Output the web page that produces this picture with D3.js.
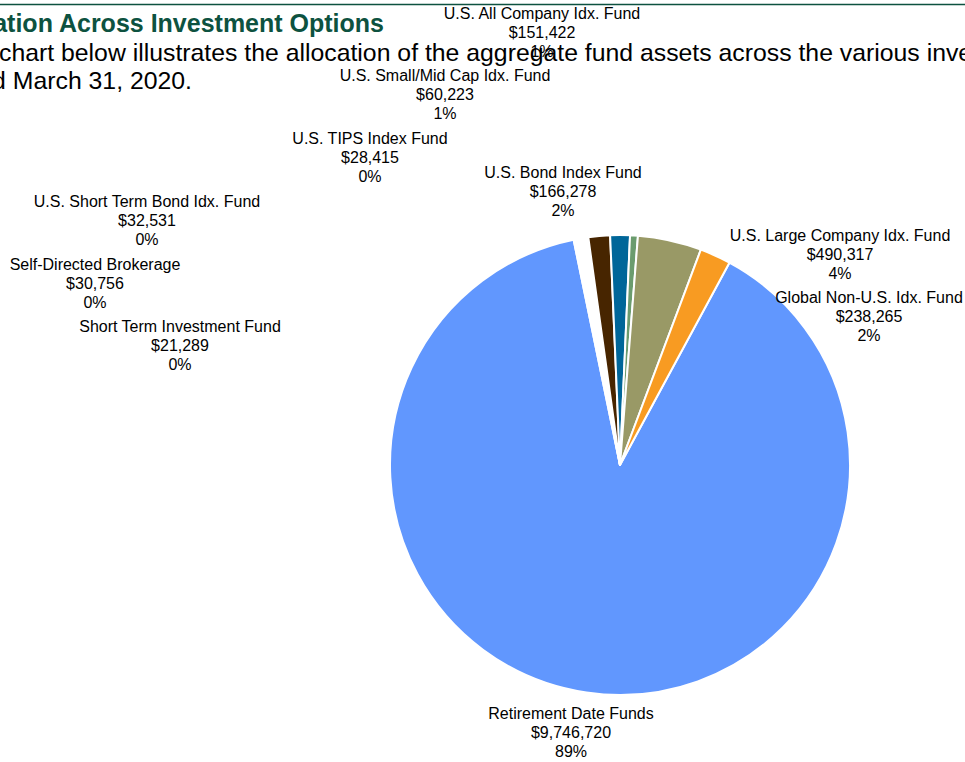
<!DOCTYPE html>
<html>
<head>
<meta charset="utf-8">
<script src="https://cdn.jsdelivr.net/npm/d3@7"></script>
<style>
  html, body { margin: 0; padding: 0; background: #fff; overflow: hidden; }
  svg { display: block; font-family: "Liberation Sans", Arial, Helvetica, sans-serif; }
</style>
</head>
<body>
<svg id="chart" width="965" height="762"></svg>
<script>
// ---- data ----
const categories = [
  "Retirement Date Funds",
  "Short Term Investment Fund",
  "Self-Directed Brokerage",
  "U.S. Short Term Bond Idx. Fund",
  "U.S. TIPS Index Fund",
  "U.S. Bond Index Fund",
  "U.S. All Company Idx. Fund",
  "U.S. Small/Mid Cap Idx. Fund",
  "U.S. Large Company Idx. Fund",
  "Global Non-U.S. Idx. Fund"
];
const values = [9746720, 21289, 30756, 32531, 28415, 166278, 151422, 60223, 490317, 238265];
const colors = ["#6197FE", "#FFFFFF", "#FFFFFF", "#FFFFFF", "#FFFFFF", "#472500", "#006699", "#6B9C6E", "#999966", "#F89B22"];
// label anchor (centre x, first-line centre y), layout only
const labelPos = [
  [571, 713], [180, 326], [95, 264], [147, 201], [370, 138],
  [563, 172], [542, 13], [445, 75], [840, 235], [869, 297]
];

const titleText = "ation Across Investment Options";
const bodyLine1 = "chart below illustrates the allocation of the aggregate fund assets across the various investment options";
const bodyLine2 = "d March 31, 2020.";

// ---- layout ----
const svg = d3.select("#chart");
const W = 965, H = 762;
const cx = 620, cy = 465, R = 230;
const startDeg = 28.4;

// top rule
svg.append("line").attr("x1", 0).attr("x2", W).attr("y1", 4.5).attr("y2", 4.5)
  .attr("stroke", "#0D5240").attr("stroke-width", 1.5);

// title & body text
svg.append("text").attr("x", 384).attr("y", 32).attr("text-anchor", "end")
  .attr("font-size", 25).attr("font-weight", "bold").attr("fill", "#0D5240").text(titleText);
svg.append("text").attr("x", -1).attr("y", 61).attr("font-size", 24.8).attr("fill", "#000").text(bodyLine1);
svg.append("text").attr("x", 192).attr("y", 89).attr("text-anchor", "end").attr("font-size", 24.8).attr("fill", "#000").text(bodyLine2);

// pie
const total = d3.sum(values);
const data = categories.map((c, i) => ({ name: c, value: values[i], color: colors[i], pos: labelPos[i] }));
const pie = d3.pie().sort(null).value(d => d.value)
  .startAngle(startDeg * Math.PI / 180)
  .endAngle(startDeg * Math.PI / 180 + 2 * Math.PI);
const arc = d3.arc().innerRadius(0).outerRadius(R);

const g = svg.append("g").attr("transform", `translate(${cx},${cy})`);
g.selectAll("path").data(pie(data)).join("path")
  .attr("d", arc)
  .attr("fill", d => d.data.color)
  .attr("stroke", "#fff")
  .attr("stroke-width", 2)
  .attr("stroke-linejoin", "round");

// labels
const fmt = d3.format(",");
const lab = svg.append("g").attr("font-size", 16).attr("fill", "#000").attr("text-anchor", "middle");
data.forEach(d => {
  const pct = Math.round(d.value / total * 100) + "%";
  const lines = [d.name, "$" + fmt(d.value), pct];
  const t = lab.append("text");
  lines.forEach((ln, k) => {
    t.append("tspan").attr("x", d.pos[0]).attr("y", d.pos[1] + 5.7 + k * 19.3).text(ln);
  });
});
</script>
</body>
</html>
